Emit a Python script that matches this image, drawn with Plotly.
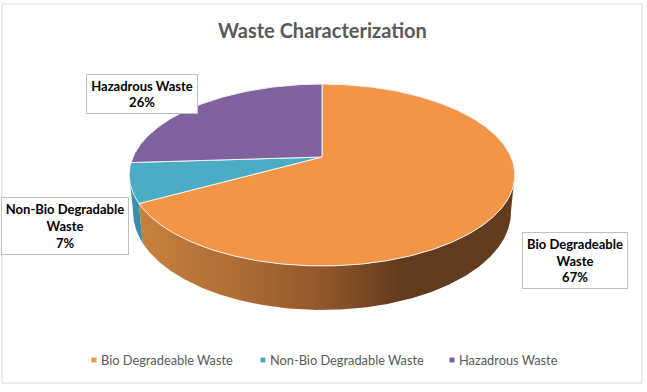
import numpy as np
import plotly.graph_objects as go

categories = ["Bio Degradeable Waste", "Non-Bio Degradable Waste", "Hazadrous Waste"]
values = [67, 7, 26]
percent_labels = ["67%", "7%", "26%"]
wrapped_labels = ["Bio Degradeable<br>Waste", "Non-Bio Degradable<br>Waste", "Hazadrous Waste"]
title_text = "Waste Characterization"
colors = ["#F39547", "#4BACC6", "#8062A0"]

W, H = 647, 392
CX, CY = 322.0, 157.0
A, B, K = 189.0, 87.4, 0.198
BOTTOM_A, BOTTOM_B, BOTTOM_CY = 185.2, 93.8, 193.0
FONT = "Lato, Carlito, sans-serif"


def project(theta_deg, bottom=False):
    t = np.radians(theta_deg)
    s, v = np.sin(t), np.cos(t)
    w = 1 + K * v
    if bottom:
        return CX + BOTTOM_A * s / w, BOTTOM_CY - BOTTOM_B * v / w
    return CX + A * s / w, CY - B * v / w


def arc(a, b, bottom=False):
    n = max(2, int(abs(b - a)) * 2)
    return project(np.linspace(a, b, n), bottom)


total = sum(values)
edges = np.cumsum([0] + values) / total * 360
silhouette_right, silhouette_left = 101.0, 259.0

fig = go.Figure()

fig.add_shape(type="rect", x0=2, y0=4, x1=642, y1=383, xref="x", yref="y",
              line=dict(color="#D9D9D9", width=1), layer="below")

# Side walls
side_specs = [
    (silhouette_right, edges[1],
     [[0, "#C8803E"], [0.25, "#B06E34"], [0.5, "#8F562B"], [0.7, "#623A1D"], [1, "#633B1D"]]),
    (edges[1], silhouette_left, None),
]
for a, b, scale in side_specs:
    tx, ty = arc(a, b)
    bx, by = arc(b, a, True)
    style = dict(fillgradient=dict(type="horizontal", colorscale=scale)) if scale else dict(fillcolor="#3A8FA6")
    fig.add_trace(go.Scatter(
        x=np.r_[tx, bx, tx[0]], y=np.r_[ty, by, ty[0]],
        mode="lines", fill="toself", line=dict(width=0),
        hoverinfo="skip", showlegend=False, **style))

# Top faces
for i, name in enumerate(categories):
    px, py = arc(edges[i], edges[i + 1])
    fig.add_trace(go.Scatter(
        x=np.r_[CX, px, CX], y=np.r_[CY, py, CY],
        mode="lines", fill="toself", fillcolor=colors[i],
        line=dict(color="#F2F2F2", width=1),
        name=name, hoverinfo="name", showlegend=False))

# Legend keys and texts
legend_key_x = [94, 263, 452]
legend_y = 360
fig.add_trace(go.Scatter(
    x=legend_key_x, y=[legend_y] * 3, mode="markers", hoverinfo="skip", showlegend=False,
    marker=dict(symbol="square", size=5, color=colors)))
for kx, name in zip(legend_key_x, categories):
    fig.add_annotation(x=kx + 5, y=legend_y, xref="x", yref="y", text=name, showarrow=False,
                       xanchor="left", yanchor="middle",
                       font=dict(family=FONT, size=12.8, color="#595959"))

# Data labels: centre x, centre y, box width, box height
label_boxes = [(575, 260, 104, 55), (65, 226, 126, 56), (142, 94, 110, 38)]
for (x, y, bw, bh), lab, pct in zip(label_boxes, wrapped_labels, percent_labels):
    fig.add_annotation(
        x=x, y=y, xref="x", yref="y", text=f"<b>{lab}<br>{pct}</b>", showarrow=False,
        width=bw, height=bh, align="center", valign="middle",
        font=dict(family=FONT, size=13, color="#000000"),
        bgcolor="#FFFFFF", bordercolor="#BFBFBF", borderwidth=1, borderpad=0)

fig.add_annotation(x=322, y=30, xref="x", yref="y", text=f"<b>{title_text}</b>", showarrow=False,
                   font=dict(family=FONT, size=20, color="#595959"))

fig.update_layout(
    width=W, height=H, margin=dict(l=0, r=0, t=0, b=0),
    paper_bgcolor="white", plot_bgcolor="white", showlegend=False,
    xaxis=dict(range=[0, W], visible=False, fixedrange=True),
    yaxis=dict(range=[H, 0], visible=False, fixedrange=True),
)

fig.write_html("out.html", config={"displayModeBar": False},
               post_script="document.body.style.margin='0';")
